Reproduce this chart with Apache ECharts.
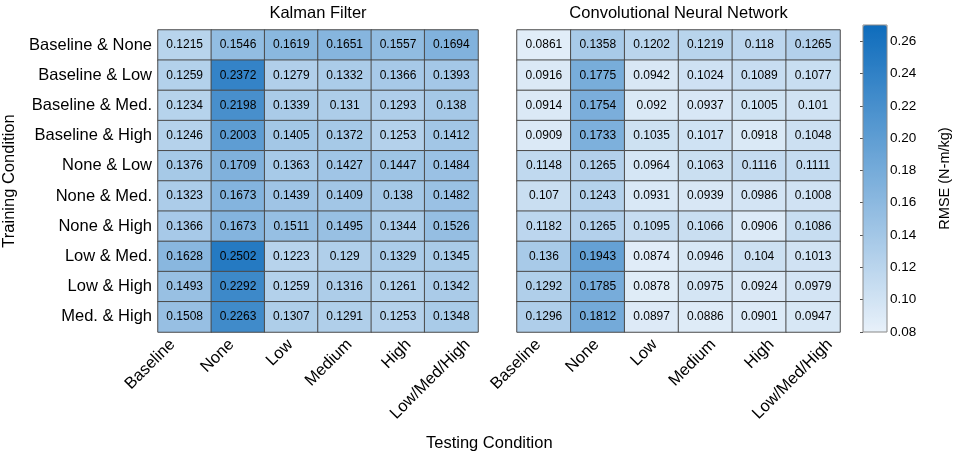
<!DOCTYPE html>
<html>
<head>
  <meta charset="utf-8">
</head>
<body style="margin: 0">
  <div id="container" style="width: 957px; height: 458px"></div>
  <script type="text/javascript" src="https://cdn.jsdelivr.net/npm/echarts@6/dist/echarts.min.js"></script>
  <script type="text/javascript">

    var testing = ['Baseline', 'None', 'Low', 'Medium', 'High', 'Low/Med/High'];
    var training = ['Baseline & None', 'Baseline & Low', 'Baseline & Med.', 'Baseline & High',
      'None & Low', 'None & Med.', 'None & High', 'Low & Med.', 'Low & High', 'Med. & High'];

    // RMSE, one row per training condition
    var kalman = [
      [0.1215, 0.1546, 0.1619, 0.1651, 0.1557, 0.1694],
      [0.1259, 0.2372, 0.1279, 0.1332, 0.1366, 0.1393],
      [0.1234, 0.2198, 0.1339, 0.131, 0.1293, 0.138],
      [0.1246, 0.2003, 0.1405, 0.1372, 0.1253, 0.1412],
      [0.1376, 0.1709, 0.1363, 0.1427, 0.1447, 0.1484],
      [0.1323, 0.1673, 0.1439, 0.1409, 0.138, 0.1482],
      [0.1366, 0.1673, 0.1511, 0.1495, 0.1344, 0.1526],
      [0.1628, 0.2502, 0.1223, 0.129, 0.1329, 0.1345],
      [0.1493, 0.2292, 0.1259, 0.1316, 0.1261, 0.1342],
      [0.1508, 0.2263, 0.1307, 0.1291, 0.1253, 0.1348]
    ];
    var cnn = [
      [0.0861, 0.1358, 0.1202, 0.1219, 0.118, 0.1265],
      [0.0916, 0.1775, 0.0942, 0.1024, 0.1089, 0.1077],
      [0.0914, 0.1754, 0.092, 0.0937, 0.1005, 0.101],
      [0.0909, 0.1733, 0.1035, 0.1017, 0.0918, 0.1048],
      [0.1148, 0.1265, 0.0964, 0.1063, 0.1116, 0.1111],
      [0.107, 0.1243, 0.0931, 0.0939, 0.0986, 0.1008],
      [0.1182, 0.1265, 0.1095, 0.1066, 0.0906, 0.1086],
      [0.136, 0.1943, 0.0874, 0.0946, 0.104, 0.1013],
      [0.1292, 0.1785, 0.0878, 0.0975, 0.0924, 0.0979],
      [0.1296, 0.1812, 0.0897, 0.0886, 0.0901, 0.0947]
    ];

    // colorbar range and tick step
    var cbMin = 0.08;
    var cbMax = 0.27;
    var cbStep = 0.02;

    var font = 'Liberation Sans, Arial, sans-serif';

    function toCells(m) {
      var out = [];
      m.forEach(function (row, i) {
        row.forEach(function (v, j) {
          out.push([j, i, v]);
        });
      });
      return out;
    }

    var myChart = echarts.init(document.getElementById('container'), null, { renderer: 'canvas' });

    var cellLabel = {
      show: true,
      color: '#000',
      fontSize: 12,
      fontFamily: font,
      formatter: function (p) { return String(p.value[2]); }
    };
    var cellStyle = { borderColor: '#4a4a4a', borderWidth: 1 };

    function cellAxis(idx) {
      return {
        type: 'category', gridIndex: idx, data: testing,
        axisLine: { show: false }, axisTick: { show: false }, axisLabel: { show: false }
      };
    }
    // tick labels in the source are spread a little wider than the cells
    function labelAxis(idx) {
      return {
        type: 'category', gridIndex: idx, data: testing,
        axisLine: { show: false }, axisTick: { show: false }, splitLine: { show: false },
        axisLabel: { rotate: 45, fontSize: 16.5, color: '#000', fontFamily: font, margin: 10, interval: 0 }
      };
    }
    function topAxis(idx, name) {
      return {
        type: 'category', gridIndex: idx, data: testing, position: 'top',
        axisLine: { show: false }, axisTick: { show: false }, axisLabel: { show: false },
        name: name, nameLocation: 'middle', nameGap: 8,
        nameTextStyle: { fontSize: 16.5, color: '#000', fontFamily: font }
      };
    }
    function hiddenY(idx) {
      return { type: 'value', gridIndex: idx, show: false };
    }

    var option = {
      animation: false,
      backgroundColor: '#fff',
      title: {
        text: 'Testing Condition',
        left: 426, top: 435, padding: 0,
        textStyle: { fontSize: 16.5, fontWeight: 'normal', color: '#000', fontFamily: font }
      },
      grid: [
        { left: 155, top: 25, width: 323, height: 307 },
        { left: 517, top: 25, width: 323, height: 307 },
        { left: 863, top: 25, width: 24, height: 307, show: true, borderColor: '#888', borderWidth: 1, backgroundColor: 'transparent', z: 10 },
        { left: 143, top: 25, width: 354, height: 307 },
        { left: 509, top: 25, width: 350, height: 307 }
      ],
      xAxis: [
        cellAxis(0),
        cellAxis(1),
        { type: 'value', gridIndex: 2, show: false },
        topAxis(0, 'Kalman Filter'),
        topAxis(1, 'Convolutional Neural Network'),
        labelAxis(3),
        labelAxis(4)
      ],
      yAxis: [
        {
          type: 'category', gridIndex: 0, data: training, inverse: true,
          axisLine: { show: false }, axisTick: { show: false },
          axisLabel: { fontSize: 16.5, color: '#000', fontFamily: font, margin: 6 },
          name: 'Training Condition', nameLocation: 'middle', nameGap: 140, nameRotate: 90,
          nameTextStyle: { fontSize: 16.5, color: '#000', fontFamily: font }
        },
        {
          type: 'category', gridIndex: 1, data: training, inverse: true,
          axisLine: { show: false }, axisTick: { show: false }, axisLabel: { show: false }
        },
        {
          type: 'value', gridIndex: 2, position: 'right',
          min: cbMin, max: cbMax, interval: cbStep,
          axisLine: { show: false }, splitLine: { show: false },
          axisTick: { show: true, inside: true, length: 3, lineStyle: { color: '#555' } },
          axisLabel: {
            fontSize: 13.5, color: '#000', fontFamily: font, margin: 3,
            showMaxLabel: false,
            formatter: function (v) { return v.toFixed(2); }
          },
          name: 'RMSE (N-m/kg)', nameLocation: 'middle', nameGap: 50, nameRotate: 90,
          nameTextStyle: { fontSize: 14.5, color: '#000', fontFamily: font }
        },
        hiddenY(3),
        hiddenY(4)
      ],
      visualMap: {
        type: 'continuous',
        min: cbMin, max: cbMax,
        seriesIndex: [0, 1],
        calculable: false,
        orient: 'vertical',
        left: 863, top: 25, padding: 0,
        itemWidth: 24, itemHeight: 307,
        text: null,
        inRange: { color: ['#e8f1fa', '#0e6cbc'] }
      },
      series: [
        {
          type: 'heatmap', xAxisIndex: 0, yAxisIndex: 0,
          data: toCells(kalman), label: cellLabel, itemStyle: cellStyle
        },
        {
          type: 'heatmap', xAxisIndex: 1, yAxisIndex: 1,
          data: toCells(cnn), label: cellLabel, itemStyle: cellStyle
        }
      ]
    };

    myChart.setOption(option);
    window.addEventListener('resize', myChart.resize);
  </script>
</body>
</html>
